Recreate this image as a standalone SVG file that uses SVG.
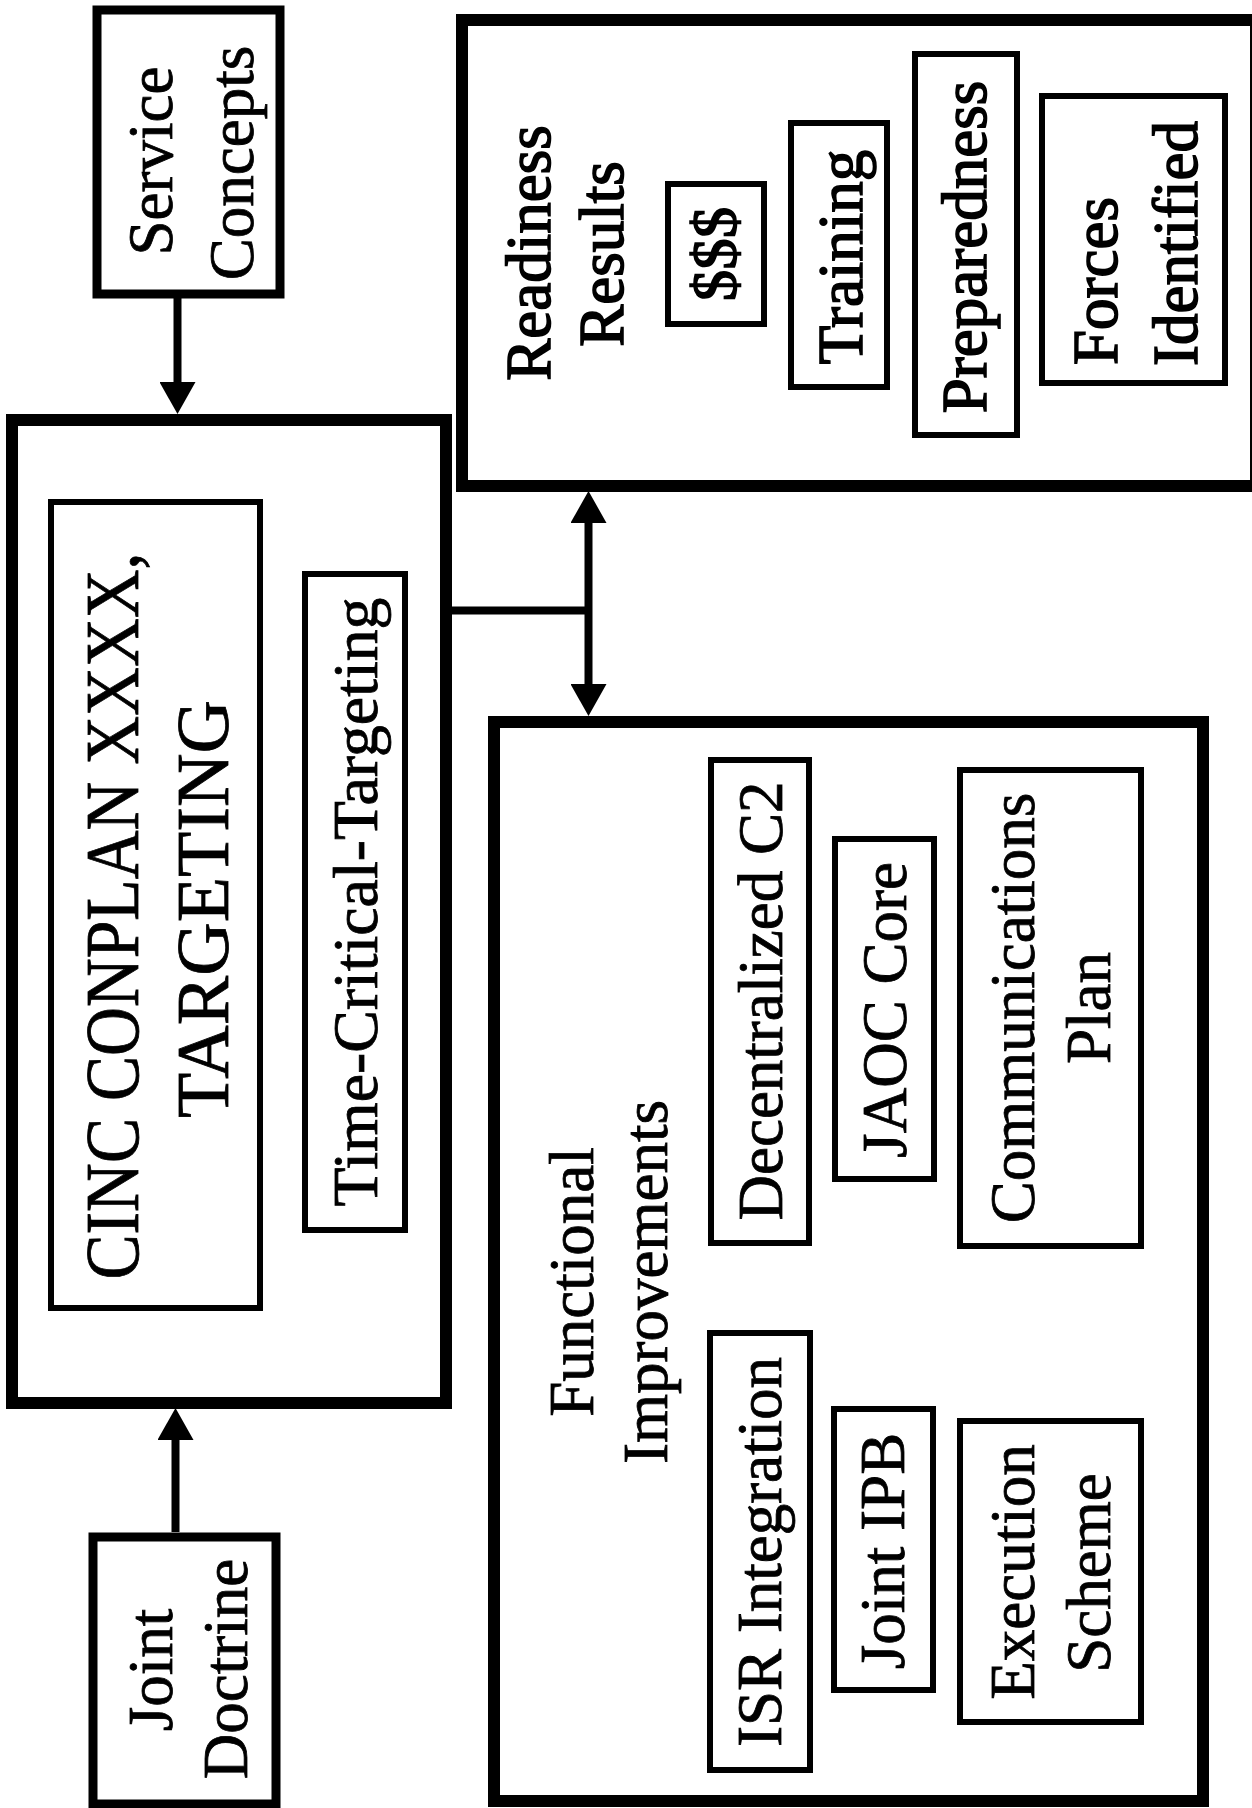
<svg xmlns="http://www.w3.org/2000/svg" width="1252" height="1808" viewBox="0 0 1252 1808">
<style>
.bg{fill:#fff}
.b12{fill:none;stroke:#000;stroke-width:12}
.b8{fill:none;stroke:#000;stroke-width:9}
.b6{fill:none;stroke:#000;stroke-width:6}
.c{fill:none;stroke:#000;stroke-width:8}
.t{font-family:"Liberation Serif","Times New Roman",serif;font-size:63px;fill:#000;stroke:#000;stroke-width:0.8;text-anchor:middle}
.h{stroke-width:1.6}
.s{text-anchor:start}
</style>
<defs>
<marker id="ah" markerUnits="userSpaceOnUse" markerWidth="32" markerHeight="36" viewBox="0 0 32 36" refX="0" refY="18" orient="auto-start-reverse">
<path d="M0,0 L32,18 L0,36 z" fill="#000"/>
</marker>
</defs>
<rect class="bg" x="0" y="0" width="1252" height="1808"/>

<g id="service-concepts">
<rect class="b8" x="97" y="10" width="183" height="284"/>
<text class="t" transform="translate(172,161) rotate(-90)">Service</text>
<text class="t" transform="translate(253,163) rotate(-90)">Concepts</text>
</g>

<g id="joint-doctrine">
<rect class="b8" x="93" y="1537" width="183" height="267"/>
<text class="t" transform="translate(172,1670) rotate(-90)">Joint</text>
<text class="t" transform="translate(247,1669) rotate(-90)">Doctrine</text>
</g>

<g id="cinc-conplan">
<rect class="b12" x="12" y="420" width="434" height="983"/>
<g id="cinc-targeting">
<rect class="b6" x="51" y="502" width="209" height="806"/>
<text class="t" style="font-size:77px" textLength="727" lengthAdjust="spacingAndGlyphs" transform="translate(138,916) rotate(-90)">CINC CONPLAN XXXX,</text>
<text class="t" style="font-size:74px" textLength="418" lengthAdjust="spacingAndGlyphs" transform="translate(228,909) rotate(-90)">TARGETING</text>
</g>
<g id="time-critical-targeting">
<rect class="b6" x="305" y="574" width="100" height="656"/>
<text class="t" textLength="609" lengthAdjust="spacingAndGlyphs" transform="translate(377,902) rotate(-90)">Time-Critical-Targeting</text>
</g>
</g>

<g id="readiness-results">
<rect class="b12" x="462" y="20" width="794" height="466"/>
<text class="t h" transform="translate(550,253) rotate(-90)">Readiness</text>
<text class="t h" transform="translate(623,254) rotate(-90)">Results</text>
<g id="money">
<rect class="b6" x="668" y="184" width="96" height="140"/>
<text class="t h" transform="translate(736,254) rotate(-90)">$$$</text>
</g>
<g id="training">
<rect class="b6" x="791" y="123" width="96" height="264"/>
<text class="t h" transform="translate(862,257) rotate(-90)">Training</text>
</g>
<g id="preparedness">
<rect class="b6" x="915" y="54" width="102" height="381"/>
<text class="t h" transform="translate(986,247) rotate(-90)">Preparedness</text>
</g>
<g id="forces-identified">
<rect class="b6" x="1042" y="96" width="183" height="287"/>
<text class="t h s" transform="translate(1117,365) rotate(-90)">Forces</text>
<text class="t h s" transform="translate(1197,366) rotate(-90)">Identified</text>
</g>
</g>

<g id="functional-improvements">
<rect class="b12" x="494" y="722" width="709" height="1079"/>
<text class="t" transform="translate(593,1282) rotate(-90)">Functional</text>
<text class="t" transform="translate(667,1282) rotate(-90)">Improvements</text>
<g id="decentralized-c2">
<rect class="b6" x="711" y="760" width="98" height="483"/>
<text class="t" transform="translate(782,1001) rotate(-90)">Decentralized C2</text>
</g>
<g id="jaoc-core">
<rect class="b6" x="835" y="839" width="99" height="340"/>
<text class="t" transform="translate(906,1010) rotate(-90)">JAOC Core</text>
</g>
<g id="communications-plan">
<rect class="b6" x="960" y="770" width="181" height="476"/>
<text class="t" transform="translate(1034,1008) rotate(-90)">Communications</text>
<text class="t" transform="translate(1110,1008) rotate(-90)">Plan</text>
</g>
<g id="isr-integration">
<rect class="b6" x="710" y="1333" width="100" height="437"/>
<text class="t" transform="translate(781,1552) rotate(-90)">ISR Integration</text>
</g>
<g id="joint-ipb">
<rect class="b6" x="834" y="1409" width="99" height="281"/>
<text class="t" transform="translate(904,1551) rotate(-90)">Joint IPB</text>
</g>
<g id="execution-scheme">
<rect class="b6" x="960" y="1421" width="181" height="301"/>
<text class="t" transform="translate(1034,1572) rotate(-90)">Execution</text>
<text class="t" transform="translate(1110,1573) rotate(-90)">Scheme</text>
</g>
</g>

<g id="connectors">
<line class="c" x1="177.5" y1="298" x2="177.5" y2="382" marker-end="url(#ah)"/>
<line class="c" x1="175.5" y1="1532" x2="175.5" y2="1440" marker-end="url(#ah)"/>
<line class="c" x1="450" y1="610.5" x2="592" y2="610.5"/>
<line class="c" x1="588.5" y1="523" x2="588.5" y2="684" marker-start="url(#ah)" marker-end="url(#ah)"/>
</g>
</svg>
